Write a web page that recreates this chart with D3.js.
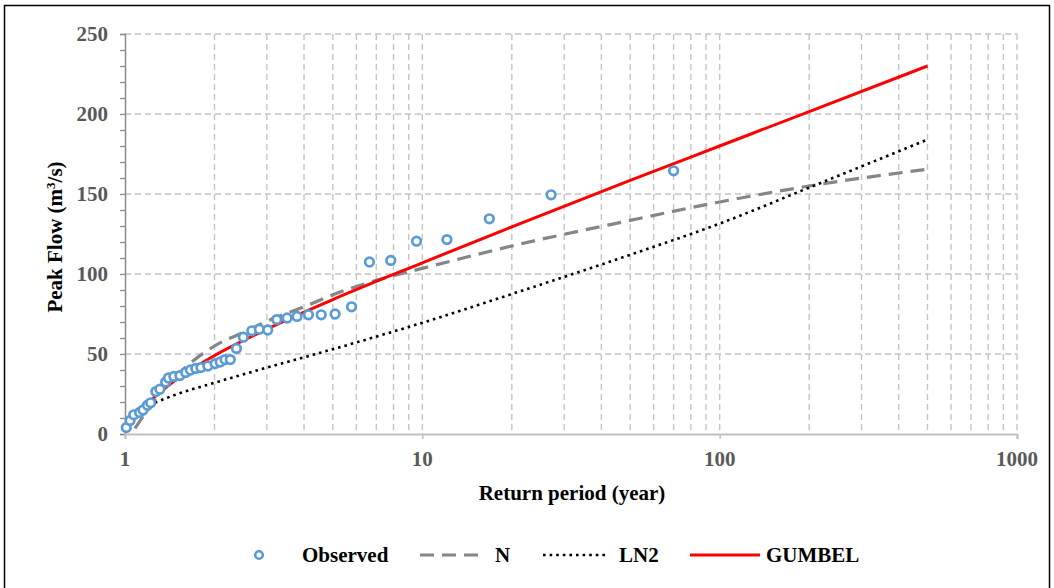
<!DOCTYPE html>
<html>
<head>
<meta charset="utf-8">
<script src="https://cdn.jsdelivr.net/npm/d3@7/dist/d3.min.js"></script>
<style>
  body { margin: 0; background: #fff; }
  text { font-family: "Times New Roman", "Liberation Serif", serif; font-weight: bold; }
</style>
</head>
<body>
<svg id="chart" width="1054" height="588"></svg>
<script>
// observed peak flows (return period in years, flow in m3/s)
let obsT = [1.01, 1.04, 1.07, 1.12, 1.15, 1.19, 1.22, 1.27, 1.31, 1.37, 1.40, 1.46, 1.53, 1.60, 1.66,
            1.73, 1.80, 1.90, 2.01, 2.09, 2.17, 2.26, 2.37, 2.50, 2.67, 2.83, 3.02, 3.24, 3.51,
            3.79, 4.14, 4.57, 5.09, 5.78, 6.64, 7.83, 9.56, 12.1, 16.8, 27.1, 70];
let obsQ = [4, 8.5, 12, 13.5, 15, 18, 19.5, 26.5, 28, 32.5, 35, 36, 36.5, 38.5, 40,
            41, 41.5, 42.5, 44, 45, 46.5, 46.5, 53.5, 60.5, 64.5, 65.5, 65, 71.5, 72.5,
            73.5, 74.5, 74.5, 75, 79.5, 107.5, 108.5, 120.5, 121.5, 134.5, 149.5, 164.5];

// fitted distributions
let nT = [1.08, 1.15, 1.3, 1.5, 2, 2.5, 3, 4, 5, 7, 10, 20, 50, 100, 200, 500];
let nQ = [3.5, 11, 24.5, 37, 55, 63.5, 70.5, 79.5, 87, 96, 103.5, 117.5, 133.5, 145, 155, 165.5];
let ln2T = [1.26, 1.5, 2, 3, 5, 10, 20, 50, 100, 200, 500];
let ln2Q = [19.5, 25, 32, 41.5, 53, 69.5, 87.5, 112, 131.5, 154, 184];
let gumT = [1.2, 1.3, 1.5, 2, 3, 5, 10, 20, 50, 100, 200, 500];
let gumQ = [19.5, 25.5, 34.5, 49, 65.5, 84, 107, 129.5, 158.5, 180, 201.5, 230];

let xTicks = [1, 10, 100, 1000];
let yTicks = [0, 50, 100, 150, 200, 250];

let svg = d3.select("#chart");
let plotL = 125, plotR = 1017, plotT = 34, plotB = 434;

// outer frame
svg.append("rect")
    .attr("x", 4.5).attr("y", 5.5)
    .attr("width", 1045).attr("height", 600)
    .attr("fill", "none").attr("stroke", "#000").attr("stroke-width", 1.5);

let x = d3.scaleLog().domain([1, 1000]).range([plotL, plotR]);
let y = d3.scaleLinear().domain([0, 250]).range([plotB, plotT]);

// grid
let grid = svg.append("g")
    .attr("stroke", "#c4c4c4").attr("stroke-width", 1.4).attr("stroke-dasharray", "6,4");
let vLines = [];
for (let d = 1; d < 1000; d *= 10) {
    for (let k = 2; k <= 10; k++) vLines.push(d * k);
}
grid.selectAll("line.v").data(vLines).enter().append("line")
    .attr("x1", d => x(d)).attr("x2", d => x(d))
    .attr("y1", plotT).attr("y2", plotB);
grid.selectAll("line.h").data(yTicks.filter(d => d > 0)).enter().append("line")
    .attr("x1", plotL).attr("x2", plotR)
    .attr("y1", d => y(d)).attr("y2", d => y(d));

// axes
let yAxis = svg.append("g")
    .attr("transform", `translate(${plotL},0)`)
    .call(d3.axisLeft(y).ticks(25).tickSize(5).tickFormat(""));
yAxis.select(".domain").attr("stroke", "#8a8a8a").attr("stroke-width", 1.5);
yAxis.selectAll(".tick line").attr("stroke", "#8a8a8a").attr("stroke-width", 1.3);

let xAxis = svg.append("g")
    .attr("transform", `translate(0,${plotB})`)
    .call(d3.axisBottom(x).tickValues(xTicks).tickSize(5).tickFormat(""));
xAxis.select(".domain").attr("stroke", "#c0c0c0").attr("stroke-width", 2);
xAxis.selectAll(".tick line").attr("stroke", "#c0c0c0").attr("stroke-width", 1.5);

svg.selectAll("text.ylab").data(yTicks).enter().append("text")
    .attr("x", 108).attr("y", d => y(d) + 7)
    .attr("text-anchor", "end")
    .attr("font-size", 21).attr("fill", "#595959")
    .text(d => d);
svg.selectAll("text.xlab").data(xTicks).enter().append("text")
    .attr("x", d => x(d)).attr("y", 466)
    .attr("text-anchor", "middle")
    .attr("font-size", 21).attr("fill", "#595959")
    .text(d => d);

// axis titles
svg.append("text")
    .attr("x", 572).attr("y", 500)
    .attr("text-anchor", "middle").attr("font-size", 21)
    .text("Return period (year)");
let yTitle = svg.append("text")
    .attr("transform", "translate(62,237) rotate(-90)")
    .attr("text-anchor", "middle").attr("font-size", 21);
yTitle.append("tspan").text("Peak Flow (m");
yTitle.append("tspan").attr("font-size", 13).attr("dy", -7).text("3");
yTitle.append("tspan").attr("dy", 7).text("/s)");

// curves
let line = d3.line().curve(d3.curveMonotoneX);
function pts(ts, qs) { return ts.map((t, i) => [x(t), y(qs[i])]); }

svg.append("path").attr("d", line(pts(nT, nQ)))
    .attr("fill", "none").attr("stroke", "#868686").attr("stroke-width", 3.2)
    .attr("stroke-dasharray", "14,8");
svg.append("path").attr("d", line(pts(ln2T, ln2Q)))
    .attr("fill", "none").attr("stroke", "#000").attr("stroke-width", 2.6)
    .attr("stroke-dasharray", "2.6,4");
svg.append("path").attr("d", line(pts(gumT, gumQ)))
    .attr("fill", "none").attr("stroke", "#ff0000").attr("stroke-width", 3);

// observed points
svg.selectAll("circle.obs").data(obsT).enter().append("circle")
    .attr("cx", d => x(d)).attr("cy", (d, i) => y(obsQ[i]))
    .attr("r", 4.3)
    .attr("fill", "#fff").attr("stroke", "#5b9bd5").attr("stroke-width", 2.7);

// legend
let lg = svg.append("g");
lg.append("circle").attr("cx", 259).attr("cy", 555).attr("r", 3.8)
    .attr("fill", "#fff").attr("stroke", "#5b9bd5").attr("stroke-width", 2.6);
lg.append("line").attr("x1", 420).attr("x2", 480).attr("y1", 555).attr("y2", 555)
    .attr("stroke", "#868686").attr("stroke-width", 3.2).attr("stroke-dasharray", "14,8");
lg.append("line").attr("x1", 543).attr("x2", 608).attr("y1", 555).attr("y2", 555)
    .attr("stroke", "#000").attr("stroke-width", 2.6).attr("stroke-dasharray", "2.6,4");
lg.append("line").attr("x1", 690).attr("x2", 760).attr("y1", 555).attr("y2", 555)
    .attr("stroke", "#ff0000").attr("stroke-width", 3);
let legendText = [["Observed", 302], ["N", 495], ["LN2", 619], ["GUMBEL", 766]];
lg.selectAll("text").data(legendText).enter().append("text")
    .attr("x", d => d[1]).attr("y", 562)
    .attr("font-size", 21).attr("fill", "#000")
    .text(d => d[0]);
</script>
</body>
</html>
